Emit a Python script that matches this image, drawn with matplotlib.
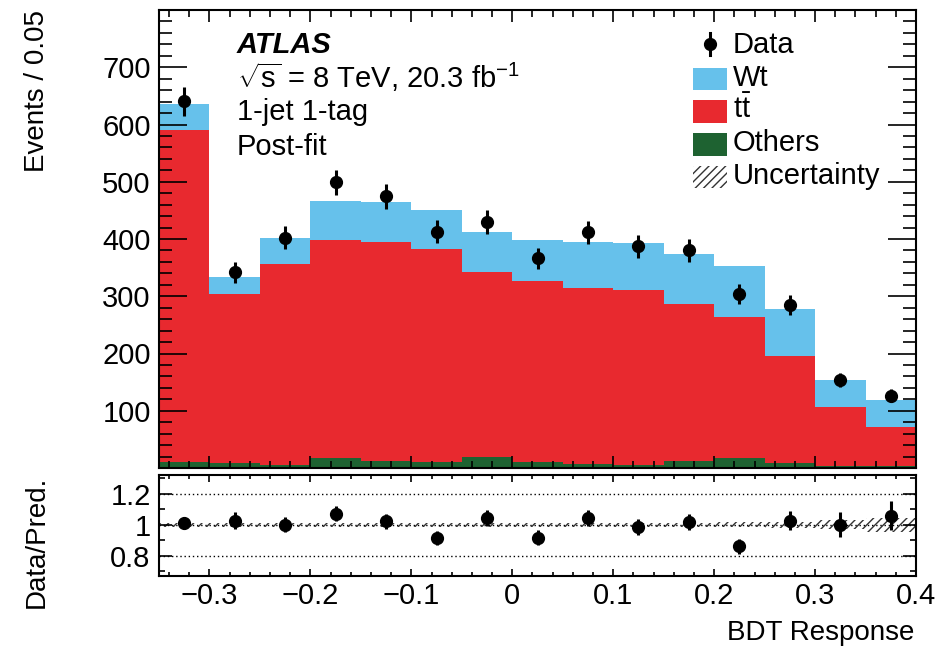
import numpy as np
import matplotlib
matplotlib.use("Agg")
import matplotlib.pyplot as plt
from matplotlib.patches import Rectangle
from matplotlib.ticker import FixedLocator, MultipleLocator, FuncFormatter

plt.rcParams["font.family"] = ["Liberation Sans", "DejaVu Sans"]
plt.rcParams["mathtext.fontset"] = "custom"
plt.rcParams["mathtext.rm"] = "Liberation Sans"
plt.rcParams["mathtext.it"] = "Liberation Sans:italic"
plt.rcParams["mathtext.bf"] = "Liberation Sans:bold"
plt.rcParams["hatch.linewidth"] = 1.0
plt.rcParams["hatch.color"] = "#333333"

# BDT response binning (width 0.05)
bin_edges = np.round(np.arange(-0.35, 0.4001, 0.05), 3)
bin_centers = 0.5 * (bin_edges[:-1] + bin_edges[1:])

# Post-fit predictions per bin
others = np.array([10, 8, 5, 17, 13, 10, 19, 10, 7, 6, 13, 18, 8, 4, 4])
ttbar = np.array([581, 296, 351, 382, 381, 373, 323, 317, 307, 305, 273, 245, 188, 102, 68])
wt = np.array([44, 29, 46, 67, 71, 68, 70, 72, 80, 82, 88, 90, 82, 48, 47])

# Observed events
data = np.array([641, 342, 402, 499, 475, 413, 430, 366, 412, 387, 380, 304, 285, 154, 126])

# Relative uncertainty on the total prediction
unc_rel = np.array([0.012, 0.012, 0.012, 0.012, 0.012, 0.012, 0.012, 0.012,
                    0.012, 0.012, 0.012, 0.015, 0.02, 0.03, 0.045])

col_wt = "#66C1EB"
col_tt = "#E8292F"
col_oth = "#1E6231"

W, H = 950, 646
fig = plt.figure(figsize=(W / 100, H / 100), dpi=100)

def px_axes(x0, y0, x1, y1):
    return fig.add_axes([x0 / W, 1 - y1 / H, (x1 - x0) / W, (y1 - y0) / H])

ax = px_axes(159, 10, 916, 468)
axr = px_axes(159, 475, 916, 576)

# Stacked histogram
lvl1 = others
lvl2 = others + ttbar
lvl3 = others + ttbar + wt
ax.stairs(lvl3, bin_edges, baseline=lvl2, fill=True, color=col_wt, lw=0)
ax.stairs(lvl2, bin_edges, baseline=lvl1, fill=True, color=col_tt, lw=0)
ax.stairs(lvl1, bin_edges, baseline=0, fill=True, color=col_oth, lw=0)

ax.errorbar(bin_centers, data, yerr=np.sqrt(data), fmt="o", color="black",
            ms=8.5, elinewidth=2.2, capsize=0, zorder=5)

ax.set_xlim(-0.35, 0.4)
ax.set_ylim(0, 800)

fs = 20
lfs = 21
ax.yaxis.set_major_locator(FixedLocator([100, 200, 300, 400, 500, 600, 700]))
ax.yaxis.set_minor_locator(MultipleLocator(20))
ax.xaxis.set_major_locator(MultipleLocator(0.1))
ax.xaxis.set_minor_locator(MultipleLocator(0.02))
ax.tick_params(axis="both", which="both", direction="in", top=True, right=True,
               labelsize=lfs, width=1.2, color="black")
ax.tick_params(axis="y", which="major", length=20, pad=6)
ax.tick_params(axis="y", which="minor", length=9.5)
ax.tick_params(axis="x", which="major", length=8.5)
ax.tick_params(axis="x", which="minor", length=5)
ax.tick_params(axis="x", labelbottom=False)
for s in ax.spines.values():
    s.set_linewidth(1.5)

# Ratio panel
pred = lvl3
ratio = data / pred
ratio_err = np.sqrt(data) / pred
axr.stairs(1 + unc_rel, bin_edges, baseline=1 - unc_rel, fill=True,
           facecolor="none", edgecolor="#333333", hatch="////", lw=0)
for yv in (0.8, 1.0, 1.2):
    axr.axhline(yv, ls=(0, (1, 2)), color="black", lw=1.0, zorder=1)
axr.errorbar(bin_centers, ratio, yerr=ratio_err, fmt="o", color="black",
             ms=8.5, elinewidth=2.2, capsize=0, zorder=5)
axr.set_xlim(-0.35, 0.4)
axr.set_ylim(0.67, 1.32)
axr.yaxis.set_major_locator(FixedLocator([0.8, 1.0, 1.2]))
axr.yaxis.set_minor_locator(MultipleLocator(0.1))
axr.yaxis.set_major_formatter(FuncFormatter(lambda v, p: f"{v:g}"))
axr.xaxis.set_major_locator(MultipleLocator(0.1))
axr.xaxis.set_minor_locator(MultipleLocator(0.02))
axr.xaxis.set_major_formatter(FuncFormatter(
    lambda v, p: ("\u2212" if v < -1e-9 else "") + f"{abs(v):g}"))
axr.tick_params(axis="both", which="both", direction="in", top=True, right=True,
                labelsize=lfs, width=1.2, color="black")
axr.tick_params(axis="y", which="major", length=9.5, pad=6)
axr.tick_params(axis="y", which="minor", length=4.5)
axr.tick_params(axis="x", which="major", length=5, pad=4)
axr.tick_params(axis="x", which="minor", length=3)
for s in axr.spines.values():
    s.set_linewidth(1.5)

# Axis titles
fig.text(37 / W, 1 - 10 / H, "Events / 0.05", rotation=90, ha="center", va="top", fontsize=fs)
fig.text(37 / W, 1 - 476 / H, "Data/Pred.", rotation=90, ha="center", va="top", fontsize=fs)
fig.text(914 / W, 1 - 640 / H, "BDT Response", ha="right", va="baseline", fontsize=fs)

# Labels inside the plot
tfs = 21
def ax_y(py):
    return (468 - py) / 458
def ax_x(px):
    return (px - 159) / 757

ax.text(ax_x(237), ax_y(53), "ATLAS", transform=ax.transAxes, fontsize=tfs,
        fontweight="bold", fontstyle="italic", va="baseline")
ax.text(ax_x(237), ax_y(88), r"$\sqrt{\mathrm{s}}$ = 8 TeV, 20.3 fb$^{\mathrm{-1}}$",
        transform=ax.transAxes, fontsize=tfs, va="baseline")
ax.text(ax_x(237), ax_y(120), "1-jet 1-tag", transform=ax.transAxes, fontsize=tfs, va="baseline")
ax.text(ax_x(237), ax_y(155), "Post-fit", transform=ax.transAxes, fontsize=tfs, va="baseline")

# Legend
lx0, lx1 = ax_x(693), ax_x(727)
tx = ax_x(733)
ax.plot([ax_x(710)] * 2, [ax_y(33), ax_y(55)], color="black", lw=2.2,
        transform=ax.transAxes, clip_on=False)
ax.plot([ax_x(710)], [ax_y(44)], "o", color="black", ms=8.5,
        transform=ax.transAxes, clip_on=False)
ax.text(tx, ax_y(53), "Data", transform=ax.transAxes, fontsize=tfs, va="baseline")

entries = [
    ("Wt", dict(facecolor=col_wt, edgecolor="none"), 68, 90, 86),
    (r"t$\mathrm{\bar{t}}$", dict(facecolor=col_tt, edgecolor="none"), 100, 123, 118.5),
    ("Others", dict(facecolor=col_oth, edgecolor="none"), 133, 156, 151),
    ("Uncertainty", dict(facecolor="none", edgecolor="#333333", hatch="////", lw=0), 166, 188, 183.5),
]
for label, style, y_top, y_bot, y_base in entries:
    ax.add_patch(Rectangle((lx0, ax_y(y_bot)), lx1 - lx0, ax_y(y_top) - ax_y(y_bot),
                           transform=ax.transAxes, clip_on=False, **style))
    ax.text(tx, ax_y(y_base), label, transform=ax.transAxes, fontsize=tfs, va="baseline")

fig.savefig("out.png", dpi=100)
